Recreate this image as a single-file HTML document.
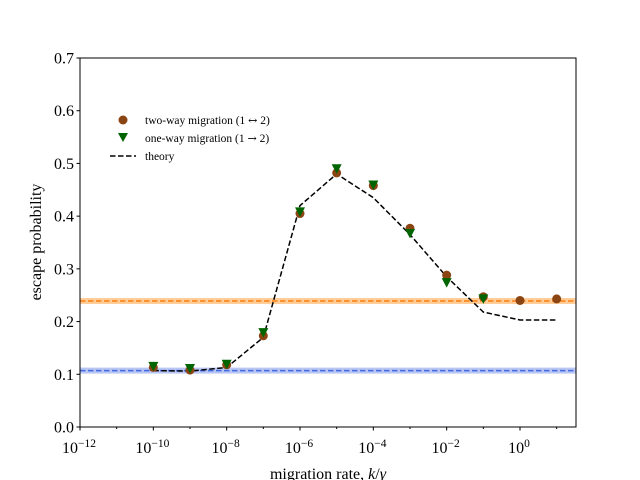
<!DOCTYPE html>
<html><head><meta charset="utf-8"><style>body{margin:0;background:#fff}svg{display:block;font-family:"Liberation Serif",serif}</style></head>
<body>
<svg id="c" width="640" height="480"></svg>
<script>
const exps=[-10,-9,-8,-7,-6,-5,-4,-3,-2,-1,0,1];
const twoWay=[0.113,0.108,0.118,0.173,0.405,0.482,0.458,0.377,0.288,0.247,0.240,0.243];
const oneWay=[0.115,0.111,0.119,0.179,0.408,0.490,0.459,0.367,0.274,0.243];
const theory=[0.107,0.106,0.113,0.170,0.420,0.480,0.435,0.365,0.285,0.218,0.203,0.203];
const orangeRef=0.239, blueRef=0.107;
const yTicks=[0,0.1,0.2,0.3,0.4,0.5,0.6,0.7];
const xTicks=[-12,-10,-8,-6,-4,-2,0];
const L=80,R=576,T=58,B=427;
const X=e=>80+(e+12)*(520-80)/12;
const Y=v=>B-(v/0.7)*(B-T);
const s=document.getElementById('c');const NS='http://www.w3.org/2000/svg';
function mk(t,a,p){const e=document.createElementNS(NS,t);for(const k in a)e.setAttribute(k,a[k]);(p||s).appendChild(e);return e;}
let e;
[[orangeRef,'#ff7f0e','#ffc080'],[blueRef,'#4169e1','#a8b8f0']].forEach((r,i)=>{
e=mk('rect',{x:L,y:Y(r[0])-3,width:R-L,height:6,fill:r[2],opacity:0.8});


e=mk('line',{x1:L,x2:R,y1:Y(r[0]),y2:Y(r[0]),stroke:r[1],'stroke-width':1.5,'stroke-dasharray':'5.5,2.5'});


});
e=mk('polyline',{points:exps.map((x,i)=>X(x)+','+Y(theory[i])).join(' '),fill:'none',stroke:'#000','stroke-width':1.5,'stroke-dasharray':'5.5,2.5'});


twoWay.forEach((v,i)=>{e=mk('circle',{cx:X(exps[i]),cy:Y(v),r:4.5,fill:'#8b4513'});

});
oneWay.forEach((v,i)=>{const x=X(exps[i]),y=Y(v);e=mk('polygon',{points:`${x-5},${y-4.5} ${x+5},${y-4.5} ${x},${y+5}`,fill:'#006400'});

});
e=mk('rect',{x:L,y:T,width:R-L,height:B-T,fill:'none',stroke:'#000','stroke-width':1});


yTicks.forEach(v=>{mk('line',{x1:L-3.5,x2:L,y1:Y(v),y2:Y(v),stroke:'#000'});
e=mk('text',{x:L-6,y:Y(v)+5.5,'text-anchor':'end','font-size':16});e.textContent=v.toFixed(1);

});
xTicks.forEach(x=>{mk('line',{x1:X(x),x2:X(x),y1:B,y2:B+3.5,stroke:'#000'});
e=mk('text',{x:X(x)-1,y:B+26,'text-anchor':'middle','font-size':16});
const t1=mk('tspan',{},e);t1.textContent='10';const t2=mk('tspan',{dy:-6,'font-size':11.5},e);t2.textContent=String(x).replace('-','\u2212');

});
for(let x=-12;x<=1;x++){if(x%2)mk('line',{x1:X(x),x2:X(x),y1:B,y2:B+2,stroke:'#000'});}
e=mk('text',{x:328,y:479,'text-anchor':'middle','font-size':16});e.innerHTML='migration rate, <tspan font-style="italic">k</tspan>/<tspan font-style="italic">γ</tspan>';


e=mk('text',{x:0,y:0,'text-anchor':'middle','font-size':16,transform:'translate(41,242) rotate(-90)'});e.textContent='escape probability';


const lg=mk('g',{});
mk('circle',{cx:123,cy:120,r:4.5,fill:'#8b4513'},lg);
mk('polygon',{points:'118,133 128,133 123,142',fill:'#006400'},lg);
mk('line',{x1:110,x2:136,y1:156,y2:156,stroke:'#000','stroke-width':1.5,'stroke-dasharray':'5.5,2.5'},lg);
[['two-way migration (1 ','\u2194',' 2)',124],['one-way migration (1 ','\u2192',' 2)',142],['theory','','',160]].forEach(t=>{e=mk('text',{x:145,y:t[3],'font-size':11.5},lg);
const a=mk('tspan',{},e);a.textContent=t[0];
if(t[1]){const b=mk('tspan',{'font-family':'DejaVu Serif','font-size':11},e);b.textContent=t[1];const c=mk('tspan',{},e);c.textContent=t[2];}

});
</script>
</body></html>
